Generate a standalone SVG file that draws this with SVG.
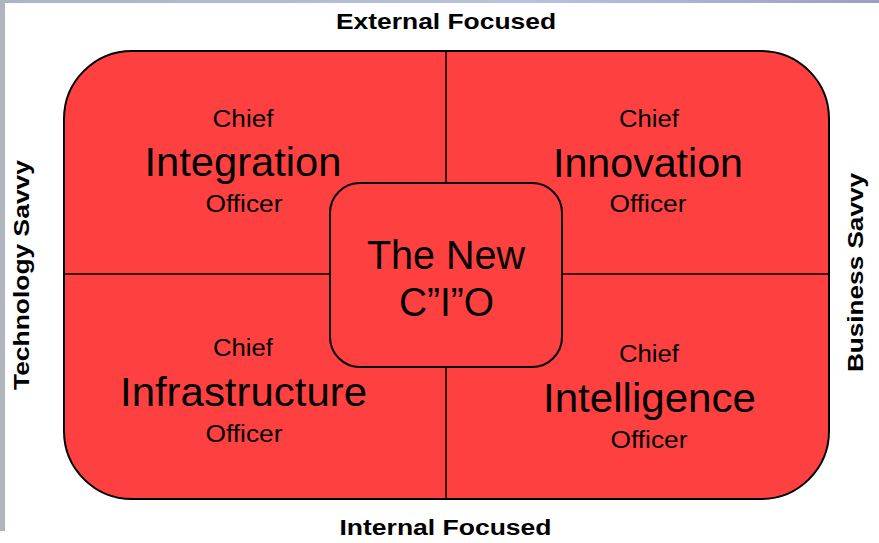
<svg xmlns="http://www.w3.org/2000/svg" width="879" height="543" viewBox="0 0 879 543">
<defs>
<linearGradient id="topg" x1="0" y1="0" x2="1" y2="0">
<stop offset="0" stop-color="#a9b4c4"/><stop offset="0.6" stop-color="#b7c3dc"/><stop offset="1" stop-color="#9aa0c0"/>
</linearGradient>
<style>
.q{fill:#ff4040;stroke:#000;stroke-width:2}
.t{font-family:"Liberation Sans",Arial,sans-serif;fill:#000;text-anchor:middle}
.s{font-size:23px}
.b{font-size:40px}
.lab{font-size:22px;font-weight:bold}
.div{stroke:#000;stroke-width:1.5;fill:none}
</style>
</defs>
<rect width="879" height="543" fill="#fff"/>
<rect x="0" y="0" width="879" height="3" fill="url(#topg)"/>
<rect x="0" y="0" width="5" height="531" fill="#b0b4bc"/>
<g id="frame">
<rect class="q" x="64" y="51" width="765" height="448" rx="68" ry="68"/>
</g>
<g id="connectors">
<line class="div" x1="446" y1="51" x2="446" y2="499"/>
<line class="div" x1="64" y1="274" x2="829" y2="274"/>
</g>
<g id="integration">
<text class="t s" x="243" y="127" textLength="61" lengthAdjust="spacingAndGlyphs">Chief</text>
<text class="t b" x="243" y="176" textLength="197" lengthAdjust="spacingAndGlyphs">Integration</text>
<text class="t s" x="244" y="212" textLength="77" lengthAdjust="spacingAndGlyphs">Officer</text>
</g>
<g id="innovation">
<text class="t s" x="649" y="127" textLength="60" lengthAdjust="spacingAndGlyphs">Chief</text>
<text class="t b" x="648" y="177" textLength="190" lengthAdjust="spacingAndGlyphs">Innovation</text>
<text class="t s" x="648" y="212" textLength="77" lengthAdjust="spacingAndGlyphs">Officer</text>
</g>
<g id="infrastructure">
<text class="t s" x="243" y="356" textLength="60" lengthAdjust="spacingAndGlyphs">Chief</text>
<text class="t b" x="243.5" y="406" textLength="247" lengthAdjust="spacingAndGlyphs">Infrastructure</text>
<text class="t s" x="244" y="442" textLength="77" lengthAdjust="spacingAndGlyphs">Officer</text>
</g>
<g id="intelligence">
<text class="t s" x="649" y="362" textLength="60" lengthAdjust="spacingAndGlyphs">Chief</text>
<text class="t b" x="649.5" y="412" textLength="213" lengthAdjust="spacingAndGlyphs">Intelligence</text>
<text class="t s" x="649" y="448" textLength="77" lengthAdjust="spacingAndGlyphs">Officer</text>
</g>
<g id="center">
<rect class="q" x="330" y="183" width="232" height="184" rx="30" ry="30" stroke-width="1.5"/>
<text class="t b" x="446" y="269" textLength="158" lengthAdjust="spacingAndGlyphs">The New</text>
<text class="t b" x="446.5" y="316" textLength="95" lengthAdjust="spacingAndGlyphs">C”I”O</text>
</g>
<g id="labels">
<text class="t lab" x="446" y="29" textLength="220" lengthAdjust="spacingAndGlyphs">External Focused</text>
<text class="t lab" x="445.5" y="535" textLength="212" lengthAdjust="spacingAndGlyphs">Internal Focused</text>
<text class="t lab" transform="translate(29,275) rotate(-90)" textLength="230" lengthAdjust="spacingAndGlyphs">Technology Savvy</text>
<text class="t lab" transform="translate(863,272.5) rotate(-90)" textLength="199" lengthAdjust="spacingAndGlyphs">Business Savvy</text>
</g>
</svg>
